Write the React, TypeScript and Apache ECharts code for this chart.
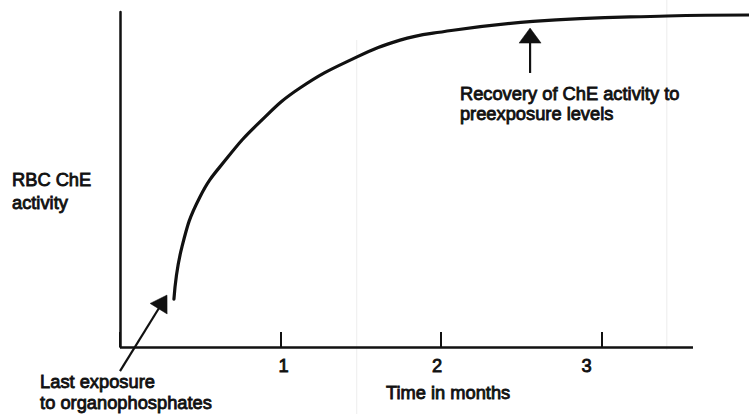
import { useEffect, useRef } from "react";
import * as echarts from "echarts";

// Recovery curve of RBC ChE activity (x: months after last exposure, y: relative activity)
const timeMonths = [0.336, 0.386, 0.498, 0.667, 0.872, 1.121, 1.477, 1.745, 1.95, 2.573, 3.408, 3.919];
const activity = [14.3, 29.9, 44.8, 56.4, 67.2, 77.3, 86.6, 91.6, 93.7, 97.2, 98.8, 99.1];

// Axis settings
const xMin = 0;
const xMax = 3.919;
const xAxisEnd = 3.57;
const xInterval = 1;
const tickLabels = ["", "1", "2", "3"];
const yMin = 0;
const yMax = 100;

// Texts
const yTitle = "RBC ChE\nactivity";
const xTitle = "Time in months";
const exposureText = "Last exposure\nto organophosphates";
const recoveryText = "Recovery of ChE activity to\npreexposure levels";

// Annotation anchors in data units [months, activity]
const exposureArrow = [[0.0, -7.2], [0.293, 15.5]];
const recoveryArrow = [[2.555, 81.8], [2.555, 95.2]];
const exposureTextAnchor = [-0.498, -7.3];
const recoveryTextAnchor = [2.118, 78.8];
const yTitleAnchor = [-0.673, 53.3];
const xTitleAnchor = [2.044, -10.7];
const scanLineXs = [1.475, 3.407];

const INK = "#111111";
const FONT = '"Liberation Sans", Arial, Helvetica, sans-serif';
const FS = 18.3;
const STROKE = 0.85;

export default function App() {
  const ref = useRef<HTMLDivElement>(null);

  useEffect(() => {
    if (!ref.current) return;
    const chart = echarts.init(ref.current, null, { renderer: "svg" });
    const tickRich = {
      t1: { fontSize: FS, fontFamily: FONT, color: INK, textBorderColor: INK, textBorderWidth: STROKE, padding: [0, 0, 0, 6] },
      t2: { fontSize: FS, fontFamily: FONT, color: INK, textBorderColor: INK, textBorderWidth: STROKE, padding: [0, 8, 0, 0] },
      t3: { fontSize: FS, fontFamily: FONT, color: INK, textBorderColor: INK, textBorderWidth: STROKE, padding: [0, 30, 0, 0] },
    };
    const option: any = {
      animation: false,
      backgroundColor: "#ffffff",
      grid: { left: 120, right: 0, top: 12, bottom: 67 },
      xAxis: {
        type: "value",
        min: xMin,
        max: xMax,
        interval: xInterval,
        axisLine: { show: false },
        axisTick: { show: true, inside: true, length: 15, lineStyle: { color: INK, width: 2 } },
        axisLabel: {
          show: true,
          margin: 9,
          fontFamily: FONT,
          fontSize: FS,
          color: INK,
          textBorderColor: INK,
          textBorderWidth: STROKE,
          showMaxLabel: false,
          rich: tickRich,
          formatter: (v: number) => {
            const i = Math.round(v);
            const t = tickLabels[i] ?? "";
            return t ? `{t${i}|${t}}` : "";
          },
        },
        splitLine: { show: false },
      },
      yAxis: {
        type: "value",
        min: yMin,
        max: yMax,
        axisLine: { show: true, onZero: false, lineStyle: { color: INK, width: 2.5 } },
        axisTick: { show: false },
        axisLabel: { show: false },
        splitLine: { show: false },
      },
      series: [
        {
          type: "line",
          data: timeMonths.map((t, i) => [t, activity[i]]),
          smooth: 0.45,
          showSymbol: false,
          lineStyle: { color: INK, width: 3.2, cap: "round" },
          silent: true,
          markLine: {
            silent: true,
            symbol: ["none", "none"],
            label: { show: false },
            lineStyle: { color: INK, width: 2.5, type: "solid" },
            data: [[{ coord: [xMin, yMin] }, { coord: [xAxisEnd, yMin] }]],
          },
        },
      ],
    };
    chart.setOption(option);

    const toPx = (p: number[]) => chart.convertToPixel({ gridIndex: 0 }, p) as number[];

    const arrow = (tail: number[], tip: number[], headLen: number, halfW: number) => {
      const a = toPx(tail);
      const b = toPx(tip);
      const dx = b[0] - a[0];
      const dy = b[1] - a[1];
      const len = Math.sqrt(dx * dx + dy * dy);
      const ux = dx / len;
      const uy = dy / len;
      const bx = b[0] - ux * headLen;
      const by = b[1] - uy * headLen;
      return [
        {
          type: "line",
          shape: { x1: a[0], y1: a[1], x2: bx + ux * 2, y2: by + uy * 2 },
          style: { stroke: INK, lineWidth: 2.2 },
          silent: true,
        },
        {
          type: "polygon",
          shape: {
            points: [
              [b[0], b[1]],
              [bx - uy * halfW, by + ux * halfW],
              [bx + uy * halfW, by - ux * halfW],
            ],
          },
          style: { fill: INK, stroke: INK, lineWidth: 0.5 },
          silent: true,
        },
      ];
    };

    const label = (text: string, anchor: number[], lineHeight: number, align = "left") => {
      const p = toPx(anchor);
      return {
        type: "text",
        x: p[0],
        y: p[1],
        silent: true,
        style: {
          text,
          fill: INK,
          fontSize: FS,
          fontFamily: FONT,
          lineHeight,
          align,
          verticalAlign: "top",
          stroke: INK,
          lineWidth: STROKE,
        },
      };
    };

    const scanLines = scanLineXs.map((xv, i) => {
      const p = toPx([xv, 0]);
      return {
        type: "line",
        silent: true,
        z: -1,
        shape: i === 0 ? { x1: p[0], y1: 40, x2: p[0], y2: 414 } : { x1: p[0], y1: 0, x2: p[0], y2: 350 },
        style: { stroke: "#ededed", lineWidth: 1 },
      };
    });

    chart.setOption({
      graphic: [
        ...scanLines,
        ...arrow(exposureArrow[0], exposureArrow[1], 16, 10),
        ...arrow(recoveryArrow[0], recoveryArrow[1], 15, 11),
        label(yTitle, yTitleAnchor, 23),
        label(exposureText, exposureTextAnchor, 21),
        label(recoveryText, recoveryTextAnchor, 20),
        label(xTitle, xTitleAnchor, 20, "center"),
      ],
    });

    return () => chart.dispose();
  }, []);

  return (
    <div
      ref={ref}
      style={{ position: "fixed", left: 0, top: 0, width: 749, height: 414, background: "#fff" }}
    />
  );
}
